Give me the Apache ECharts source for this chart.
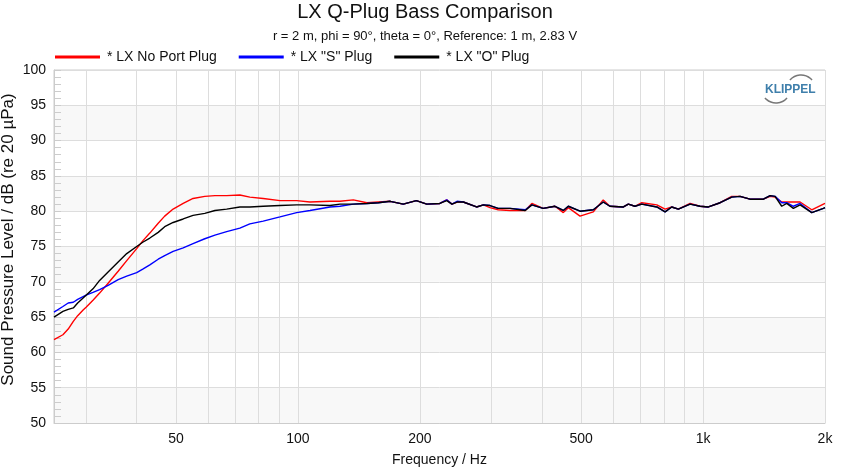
<!DOCTYPE html>
<html>
<head>
<meta charset="utf-8">
<script src="https://cdn.jsdelivr.net/npm/echarts@6/dist/echarts.min.js"></script>
<style>html,body{margin:0;padding:0;background:#fff}#c{width:850px;height:468px}</style>
</head>
<body>
<div id="c"></div>
<script>
// Frequencies (Hz) at which the curves were read
const freqs = [25,26.3,27.1,27.9,28.6,29.5,30,31.2,32.4,34,36,37.8,40,41.4,43.1,45.2,46.9,49.2,52.1,55.1,58.9,62.4,66.7,71.9,76.1,82.1,90.3,99.3,107.1,120,127,137,148,158,169,182,196,208,224,233,240,247,256,276,287,298,312,334,364,378,403,431,452,465,497,536,567,589,636,654,679,706,769,806,837,869,929,983,1031,1102,1177,1234,1306,1409,1464,1506,1564,1609,1671,1736,1855,1982,2000];
// * LX No Port Plug (dB)
const noPortPlug = [61.8,62.5,63.3,64.4,65.2,66.0,66.4,67.4,68.4,69.8,71.5,73.0,74.7,75.8,76.9,78.3,79.3,80.3,81.1,81.8,82.1,82.2,82.2,82.3,82.0,81.8,81.5,81.5,81.3,81.4,81.4,81.6,81.2,81.3,81.4,81.0,81.5,81.0,81.1,81.6,81.0,81.3,81.3,80.6,80.9,80.5,80.2,80.1,80.1,81.1,80.4,80.7,79.8,80.5,79.3,79.9,81.6,80.7,80.6,81.0,80.7,81.2,80.9,80.3,80.6,80.3,81.1,80.7,80.6,81.2,82.1,82.1,81.7,81.7,82.1,82.0,81.3,81.3,81.3,81.3,80.2,81.0,81.1];
// * LX "S" Plug (dB)
const sPlug = [65.7,66.5,67.0,67.1,67.5,67.9,68.1,68.5,68.9,69.5,70.3,70.8,71.3,71.8,72.4,73.2,73.7,74.3,74.8,75.4,76.1,76.6,77.1,77.6,78.2,78.6,79.2,79.8,80.1,80.6,80.7,81.0,81.1,81.2,81.4,81.0,81.5,81.0,81.1,81.6,81.0,81.4,81.3,80.6,80.9,80.8,80.4,80.4,80.2,80.9,80.4,80.7,80.1,80.7,80.0,80.2,81.3,80.7,80.6,81.0,80.7,81.0,80.6,79.9,80.6,80.3,81.0,80.7,80.6,81.2,82.0,82.1,81.7,81.7,82.2,82.1,81.2,81.2,80.7,81.1,79.8,80.4,80.5];
// * LX "O" Plug (dB)
const oPlug = [65.0,65.8,66.1,66.3,67.0,67.7,68.1,69.0,70.2,71.4,72.8,74.0,75.0,75.6,76.2,77.0,77.8,78.4,78.9,79.4,79.7,80.1,80.3,80.6,80.6,80.7,80.8,80.9,80.9,80.8,81.0,81.0,81.1,81.2,81.4,81.0,81.5,81.0,81.1,81.5,81.0,81.3,81.3,80.6,80.9,80.8,80.4,80.4,80.1,80.9,80.4,80.7,80.1,80.7,80.0,80.2,81.3,80.7,80.6,81.0,80.7,81.0,80.6,79.9,80.6,80.3,81.0,80.7,80.6,81.2,82.0,82.1,81.7,81.7,82.2,82.1,80.7,81.1,80.4,80.9,79.8,80.4,80.5];
// Axis ticks
const gridFreqs = [30,40,50,60,70,80,90,100,200,300,400,500,600,700,800,900,1000,2000];
const labelFreqs = [50,100,200,500,1000,2000];

const FONT = 'Arial, "Liberation Sans", sans-serif';
const L = Math.log10;
const pts = arr => freqs.map((f, i) => [L(f), arr[i]]);

const chart = echarts.init(document.getElementById('c'), null, {renderer: 'canvas'});
chart.setOption({
  animation: false,
  backgroundColor: '#fff',
  title: {
    text: 'LX Q-Plug Bass Comparison',
    subtext: 'r = 2 m, phi = 90°, theta = 0°, Reference: 1 m, 2.83 V',
    left: 'center', top: 2, padding: 0, itemGap: 8,
    textStyle: {fontFamily: FONT, fontSize: 20, fontWeight: 'normal', color: '#111'},
    subtextStyle: {fontFamily: FONT, fontSize: 13, color: '#111'}
  },
  legend: {
    left: 55, top: 50, padding: 0, itemGap: 22, itemWidth: 45, itemHeight: 3, icon: 'rect',
    textStyle: {fontFamily: FONT, fontSize: 14, color: '#111', padding: [0, 0, 0, 2]},
    data: ['* LX No Port Plug', '* LX "S" Plug', '* LX "O" Plug']
  },
  grid: {left: 54, right: 25, top: 70, bottom: 45, containLabel: false, outerBoundsMode: 'none',
         show: true, borderColor: '#cccccc', borderWidth: 1, backgroundColor: 'transparent'},
  xAxis: {
    type: 'value', min: L(25), max: L(2000),
    name: 'Frequency / Hz', nameLocation: 'middle', nameGap: 30, nameMoveOverlap: false,
    nameTextStyle: {fontFamily: FONT, fontSize: 14, color: '#111'},
    axisLine: {show: true, lineStyle: {color: '#cccccc'}},
    axisTick: {show: false, customValues: gridFreqs.map(L)},
    axisLabel: {
      customValues: labelFreqs.map(L), fontFamily: FONT, fontSize: 14, color: '#111', margin: 9,
      formatter: v => { const f = Math.round(Math.pow(10, v)); return f >= 1000 ? (f / 1000) + 'k' : String(f); }
    },
    splitLine: {show: true, lineStyle: {color: '#dddddd', width: 1}}
  },
  yAxis: {
    type: 'value', min: 50, max: 100, interval: 5,
    name: 'Sound Pressure Level / dB (re 20 µPa)', nameLocation: 'middle', nameGap: 37, nameMoveOverlap: false,
    nameTextStyle: {fontFamily: FONT, fontSize: 17, color: '#111', padding: [0, 0, 0, 14]},
    axisLine: {show: true, lineStyle: {color: '#cccccc'}},
    axisTick: {show: true, inside: true, length: 7, lineStyle: {color: '#cccccc'}},
    minorTick: {show: true, splitNumber: 5, length: 7, lineStyle: {color: '#cccccc'}},
    axisLabel: {fontFamily: FONT, fontSize: 14, color: '#111', margin: 8},
    splitLine: {show: true, lineStyle: {color: '#dddddd', width: 1}},
    splitArea: {show: true, areaStyle: {color: ['#f8f8f8', '#ffffff']}}
  },
  series: [
    {name: '* LX No Port Plug', type: 'line', data: pts(noPortPlug), showSymbol: false, symbol: 'none', lineStyle: {color: '#ff0000', width: 1.4}, itemStyle: {color: '#ff0000'}},
    {name: '* LX "S" Plug', type: 'line', data: pts(sPlug), showSymbol: false, symbol: 'none', lineStyle: {color: '#0000ff', width: 1.4}, itemStyle: {color: '#0000ff'}},
    {name: '* LX "O" Plug', type: 'line', data: pts(oPlug), showSymbol: false, symbol: 'none', lineStyle: {color: '#000000', width: 1.4}, itemStyle: {color: '#000000'}}
  ],
  graphic: [
    {type: 'text', z: 100, x: 765, y: 84, style: {text: 'KLIPPEL', fontSize: 12, fontWeight: 'bold', fontFamily: FONT, fill: '#3f7fab'}},
    {type: 'arc', z: 100, shape: {cx: 801, cy: 89.6, r: 14.6, startAngle: -2.43, endAngle: -0.715}, style: {stroke: '#777', fill: null, lineWidth: 1.5}},
    {type: 'arc', z: 100, shape: {cx: 776, cy: 88.4, r: 14.6, startAngle: 0.715, endAngle: 2.43}, style: {stroke: '#777', fill: null, lineWidth: 1.5}}
  ]
});
</script>
</body>
</html>
